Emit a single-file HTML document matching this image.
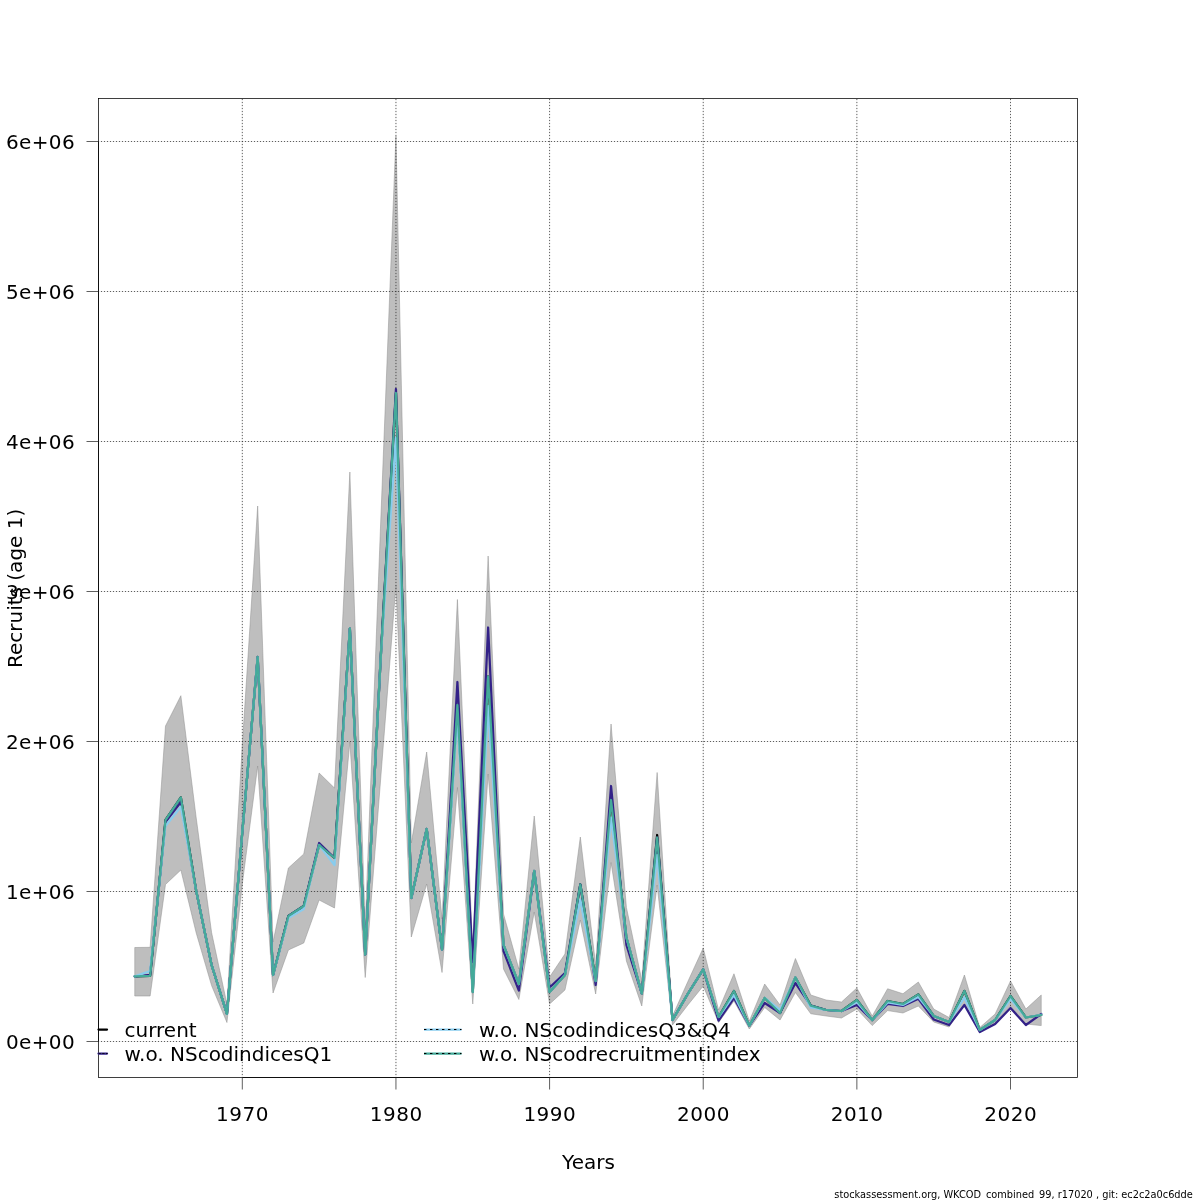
<!DOCTYPE html>
<html><head><meta charset="utf-8"><title>Recruits (age 1)</title>
<style>html,body{margin:0;padding:0;background:#fff;}svg{display:block;}text{font-family:'DejaVu Sans', 'Liberation Sans', sans-serif;fill:#000;}svg{will-change:transform;}</style></head><body>
<svg width="1200" height="1200" viewBox="0 0 1200 1200">
<rect x="0" y="0" width="1200" height="1200" fill="#fff"/>
<defs><clipPath id="pc"><rect x="98.5" y="98.5" width="979" height="979"/></clipPath></defs>
<g clip-path="url(#pc)">
<polygon points="134.76,947.50 150.12,947.30 165.49,726.00 180.85,695.70 196.22,818.00 211.58,932.50 226.94,1004.00 242.31,745.00 257.67,506.00 273.04,942.00 288.40,868.00 303.76,854.00 319.13,773.00 334.49,788.00 349.86,472.00 365.22,925.00 380.58,525.00 395.95,136.00 411.31,843.00 426.68,752.00 442.04,919.00 457.41,599.50 472.77,950.00 488.13,556.00 503.50,914.00 518.86,969.00 534.23,816.00 549.59,977.00 564.95,954.00 580.32,837.00 595.68,965.00 611.05,724.00 626.41,907.50 641.77,980.00 657.14,772.50 672.50,1016.00 687.87,981.50 703.23,948.00 718.59,1010.00 733.96,973.75 749.32,1021.00 764.69,984.00 780.05,1005.00 795.42,958.50 810.78,995.00 826.14,1000.00 841.51,1002.00 856.87,988.00 872.24,1016.00 887.60,988.75 902.96,993.75 918.33,982.00 933.69,1009.00 949.06,1017.50 964.42,975.00 979.78,1027.50 995.15,1014.00 1010.51,981.00 1025.88,1009.00 1041.24,995.00 1041.24,1025.60 1025.88,1024.00 1010.51,1006.00 995.15,1023.00 979.78,1032.50 964.42,1004.00 949.06,1027.00 933.69,1022.00 918.33,1006.00 902.96,1013.00 887.60,1010.60 872.24,1025.60 856.87,1009.00 841.51,1018.00 826.14,1016.00 810.78,1013.75 795.42,992.50 780.05,1020.00 764.69,1007.50 749.32,1029.00 733.96,1001.00 718.59,1022.50 703.23,986.00 687.87,1005.00 672.50,1025.00 657.14,885.00 641.77,1006.00 626.41,961.00 611.05,862.50 595.68,994.00 580.32,920.00 564.95,990.00 549.59,1004.00 534.23,912.00 518.86,999.50 503.50,969.00 488.13,774.00 472.77,1004.00 457.41,787.50 442.04,972.50 426.68,884.00 411.31,937.00 395.95,585.00 380.58,780.00 365.22,977.50 349.86,742.00 334.49,908.00 319.13,900.00 303.76,943.00 288.40,950.00 273.04,993.00 257.67,766.00 242.31,884.00 226.94,1022.50 211.58,985.60 196.22,933.00 180.85,870.00 165.49,884.50 150.12,996.00 134.76,996.00" fill="#bebebe" stroke="#8f8f8f" stroke-width="0.5" stroke-linejoin="round"/>
<path d="M242.31,98.875V1077M395.95,98.875V1077M549.59,98.875V1077M703.23,98.875V1077M856.87,98.875V1077M1010.51,98.875V1077M97.875,1041.50H1077M97.875,891.50H1077M97.875,741.50H1077M97.875,591.50H1077M97.875,441.50H1077M97.875,291.50H1077M97.875,141.50H1077" stroke="#2a2a2a" stroke-width="0.75" stroke-dasharray="1.25 1.75" fill="none"/>
<polyline points="134.76,976.40 150.12,975.90 165.49,820.00 180.85,797.50 196.22,891.00 211.58,965.00 226.94,1013.80 242.31,832.00 257.67,657.00 273.04,975.00 288.40,916.00 303.76,906.00 319.13,845.00 334.49,858.00 349.86,628.50 365.22,954.50 380.58,660.00 395.95,393.00 411.31,898.00 426.68,829.00 442.04,949.50 457.41,705.00 472.77,992.00 488.13,676.50 503.50,945.00 518.86,984.00 534.23,871.00 549.59,992.00 564.95,975.00 580.32,884.50 595.68,981.00 611.05,800.00 626.41,937.50 641.77,993.40 657.14,835.00 672.50,1020.00 687.87,993.75 703.23,969.40 718.59,1017.00 733.96,991.00 749.32,1025.60 764.69,998.00 780.05,1013.00 795.42,977.50 810.78,1005.60 826.14,1010.00 841.51,1011.00 856.87,1000.00 872.24,1020.00 887.60,1001.00 902.96,1004.00 918.33,994.40 933.69,1016.00 949.06,1022.00 964.42,991.00 979.78,1030.00 995.15,1020.00 1010.51,996.00 1025.88,1017.50 1041.24,1015.00" fill="none" stroke="#000000" stroke-width="2.25" stroke-linejoin="round" stroke-linecap="round"/>
<polyline points="134.76,976.40 150.12,974.80 165.49,822.00 180.85,802.00 196.22,891.00 211.58,965.00 226.94,1013.80 242.31,832.00 257.67,657.00 273.04,975.00 288.40,916.00 303.76,906.00 319.13,843.00 334.49,858.00 349.86,628.50 365.22,954.50 380.58,660.00 395.95,389.00 411.31,898.00 426.68,829.00 442.04,949.50 457.41,682.00 472.77,962.00 488.13,627.50 503.50,951.00 518.86,990.60 534.23,871.00 549.59,987.50 564.95,973.00 580.32,884.50 595.68,985.00 611.05,786.00 626.41,945.00 641.77,993.40 657.14,837.50 672.50,1020.00 687.87,993.75 703.23,969.40 718.59,1020.60 733.96,998.00 749.32,1025.60 764.69,1003.00 780.05,1013.00 795.42,983.00 810.78,1005.60 826.14,1010.00 841.51,1011.00 856.87,1005.00 872.24,1020.00 887.60,1004.00 902.96,1006.00 918.33,998.75 933.69,1019.50 949.06,1025.00 964.42,1005.00 979.78,1032.00 995.15,1024.00 1010.51,1008.00 1025.88,1025.00 1041.24,1014.00" fill="none" stroke="#332288" stroke-width="2.25" stroke-linejoin="round" stroke-linecap="round"/>
<polyline points="134.76,976.40 150.12,971.00 165.49,826.00 180.85,806.70 196.22,891.00 211.58,965.00 226.94,1013.80 242.31,832.00 257.67,657.00 273.04,975.00 288.40,918.00 303.76,909.00 319.13,845.00 334.49,865.00 349.86,628.50 365.22,954.50 380.58,660.00 395.95,438.00 411.31,898.00 426.68,829.00 442.04,949.50 457.41,716.00 472.77,992.00 488.13,706.00 503.50,945.00 518.86,984.00 534.23,871.00 549.59,992.00 564.95,975.00 580.32,900.00 595.68,981.00 611.05,817.50 626.41,937.50 641.77,993.40 657.14,855.00 672.50,1020.00 687.87,993.75 703.23,969.40 718.59,1017.00 733.96,995.00 749.32,1025.60 764.69,998.00 780.05,1010.00 795.42,977.50 810.78,1007.50 826.14,1010.00 841.51,1011.00 856.87,1002.00 872.24,1020.00 887.60,1002.50 902.96,1005.00 918.33,997.00 933.69,1016.00 949.06,1022.00 964.42,997.50 979.78,1030.00 995.15,1020.00 1010.51,999.00 1025.88,1017.50 1041.24,1014.75" fill="none" stroke="#88CCEE" stroke-width="2.25" stroke-linejoin="round" stroke-linecap="round"/>
<polyline points="134.76,976.40 150.12,975.90 165.49,820.00 180.85,797.50 196.22,891.00 211.58,965.00 226.94,1013.80 242.31,832.00 257.67,657.00 273.04,975.00 288.40,916.00 303.76,906.00 319.13,845.00 334.49,858.00 349.86,628.50 365.22,954.50 380.58,660.00 395.95,393.00 411.31,898.00 426.68,829.00 442.04,949.50 457.41,705.00 472.77,992.00 488.13,676.50 503.50,945.00 518.86,984.00 534.23,871.00 549.59,992.00 564.95,975.00 580.32,884.50 595.68,981.00 611.05,800.00 626.41,937.50 641.77,993.40 657.14,837.50 672.50,1020.00 687.87,993.75 703.23,969.40 718.59,1017.00 733.96,991.00 749.32,1025.60 764.69,998.00 780.05,1013.00 795.42,977.50 810.78,1005.60 826.14,1010.00 841.51,1011.00 856.87,1000.00 872.24,1020.00 887.60,1001.00 902.96,1004.00 918.33,994.40 933.69,1016.00 949.06,1022.00 964.42,991.00 979.78,1030.00 995.15,1020.00 1010.51,996.00 1025.88,1017.50 1041.24,1015.00" fill="none" stroke="#44AA99" stroke-width="2.25" stroke-linejoin="round" stroke-linecap="round"/>
</g>
<rect x="98.5" y="98.5" width="979" height="979" fill="none" stroke="#000" stroke-width="0.75"/>
<path d="M98.5,1041.50V141.50M242.31,1077.5H1010.51" stroke="#000" stroke-width="0.75" fill="none"/>
<path d="M242.31,1077.5V1089.5M395.95,1077.5V1089.5M549.59,1077.5V1089.5M703.23,1077.5V1089.5M856.87,1077.5V1089.5M1010.51,1077.5V1089.5M98.5,1041.50H86.5M98.5,891.50H86.5M98.5,741.50H86.5M98.5,591.50H86.5M98.5,441.50H86.5M98.5,291.50H86.5M98.5,141.50H86.5" stroke="#2a2a2a" stroke-width="0.75" fill="none"/>
<text x="242.56" y="1121" font-size="20" letter-spacing="0.5" text-anchor="middle">1970</text>
<text x="396.20" y="1121" font-size="20" letter-spacing="0.5" text-anchor="middle">1980</text>
<text x="549.84" y="1121" font-size="20" letter-spacing="0.5" text-anchor="middle">1990</text>
<text x="703.48" y="1121" font-size="20" letter-spacing="0.5" text-anchor="middle">2000</text>
<text x="857.12" y="1121" font-size="20" letter-spacing="0.5" text-anchor="middle">2010</text>
<text x="1010.76" y="1121" font-size="20" letter-spacing="0.5" text-anchor="middle">2020</text>
<text x="75.0" y="1049.20" font-size="20" letter-spacing="0.35" text-anchor="end">0e+00</text>
<text x="75.0" y="899.20" font-size="20" letter-spacing="0.35" text-anchor="end">1e+06</text>
<text x="75.0" y="749.20" font-size="20" letter-spacing="0.35" text-anchor="end">2e+06</text>
<text x="75.0" y="599.20" font-size="20" letter-spacing="0.35" text-anchor="end">3e+06</text>
<text x="75.0" y="449.20" font-size="20" letter-spacing="0.35" text-anchor="end">4e+06</text>
<text x="75.0" y="299.20" font-size="20" letter-spacing="0.35" text-anchor="end">5e+06</text>
<text x="75.0" y="149.20" font-size="20" letter-spacing="0.35" text-anchor="end">6e+06</text>
<text x="588.5" y="1168.8" font-size="20" text-anchor="middle">Years</text>
<text transform="translate(22,588.4) rotate(-90)" font-size="20" text-anchor="middle">Recruits (age 1)</text>
<path d="M98.5,1029.5H107" stroke="#000" stroke-width="2.25" stroke-linecap="round"/>
<path d="M98.5,1053.5H107" stroke="#332288" stroke-width="2.25" stroke-linecap="round"/>
<path d="M98.5,1053.5H107.5" stroke="#000" stroke-width="0.75" stroke-dasharray="2.25 1.5"/>
<path d="M424,1029.5H461.5" stroke="#88CCEE" stroke-width="2.25"/>
<path d="M424,1029.5H461.5" stroke="#000" stroke-width="1.2" stroke-dasharray="2.4 3.6"/>
<path d="M424,1053.5H461.5" stroke="#44AA99" stroke-width="2.25"/>
<path d="M424,1053.5H461.5" stroke="#000" stroke-width="1.2" stroke-dasharray="2.4 3.6"/>
<text x="124.5" y="1037" font-size="20">current</text>
<text x="124.5" y="1061" font-size="20">w.o. NScodindicesQ1</text>
<text x="479" y="1037" font-size="20">w.o. NScodindicesQ3&amp;Q4</text>
<text x="479" y="1061" font-size="20">w.o. NScodrecruitmentindex</text>
<text x="834.3" y="1198" font-size="9.8" textLength="358.5" lengthAdjust="spacing">stockassessment.org, WKCOD_combined_99, r17020 , git: ec2c2a0c6dde</text>
</svg></body></html>
